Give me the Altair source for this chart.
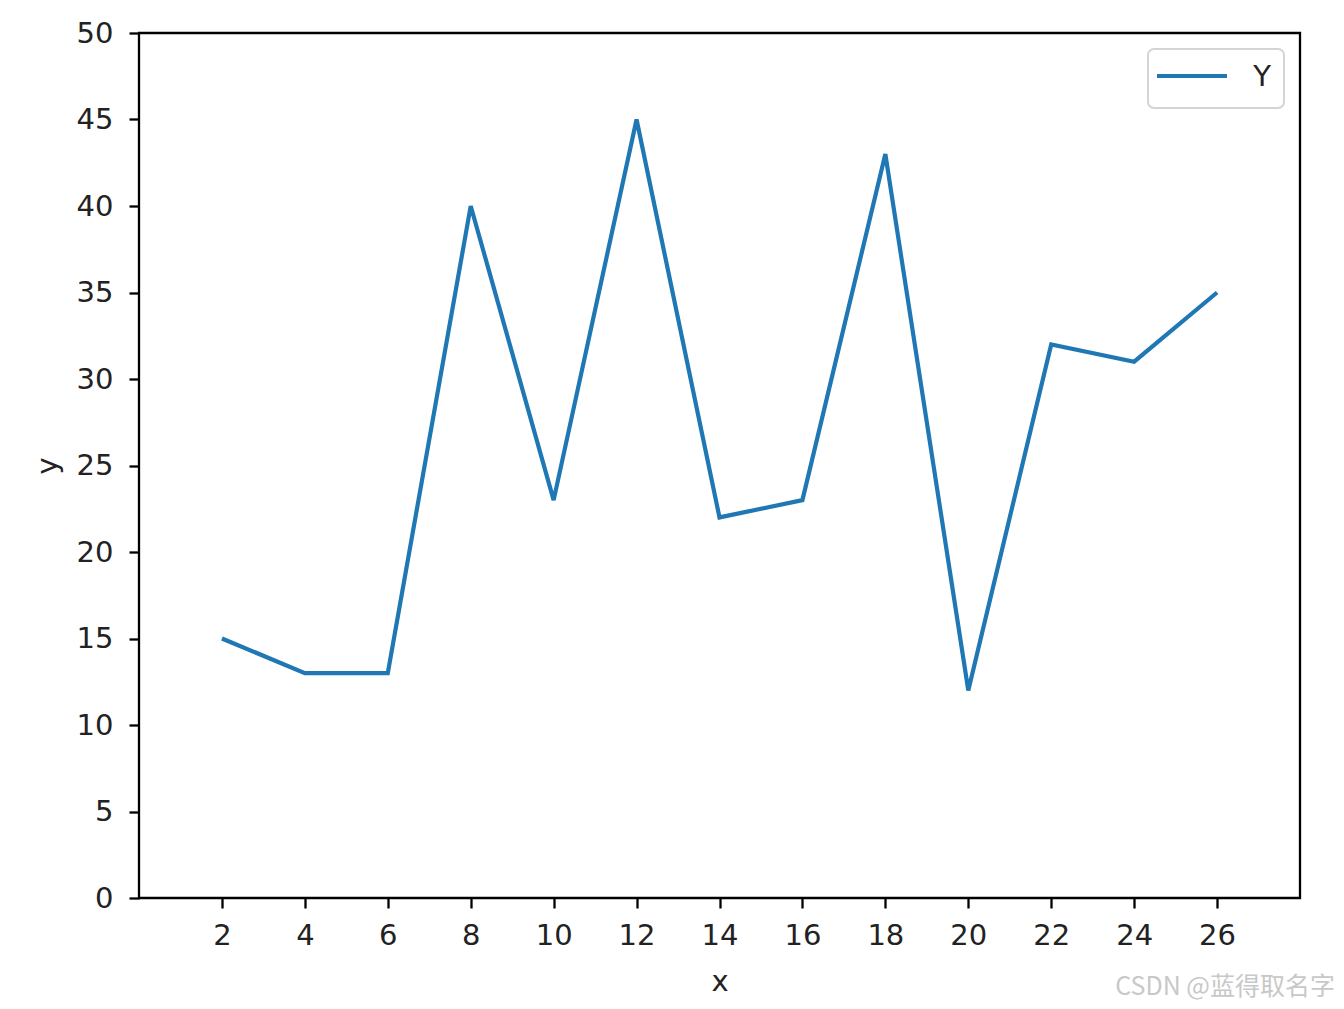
import altair as alt
import pandas as pd

x_vals = [2, 4, 6, 8, 10, 12, 14, 16, 18, 20, 22, 24, 26]
y_vals = [15, 13, 13, 40, 23, 45, 22, 23, 43, 12, 32, 31, 35]
legend_label = "Y"
watermark = "CSDN @蓝得取名字"

df = pd.DataFrame({"x": x_vals, "y": y_vals})

FONT = "DejaVu Sans"
FS = 29
BLUE = "#1f77b4"

line = alt.Chart(df).mark_line(strokeWidth=4.2, color=BLUE, clip=False).encode(
    x=alt.X("x:Q", scale=alt.Scale(domain=[0, 28], nice=False, zero=False),
            axis=alt.Axis(values=x_vals, title="x", grid=False)),
    y=alt.Y("y:Q", scale=alt.Scale(domain=[0, 50], nice=False),
            axis=alt.Axis(values=list(range(0, 51, 5)), title="y", grid=False)),
)

one = pd.DataFrame({"t": [legend_label]})

leg_box = alt.Chart(one).mark_rect(
    fill="white", stroke="#d0d0d0", strokeWidth=2, cornerRadius=6, opacity=0.9
).encode(x=alt.value(1009), x2=alt.value(1145), y=alt.value(16), y2=alt.value(75))

leg_line = alt.Chart(one).mark_rule(color=BLUE, strokeWidth=4.2).encode(
    x=alt.value(1018), x2=alt.value(1088), y=alt.value(43))

leg_text = alt.Chart(one).mark_text(
    align="center", baseline="middle", fontSize=FS, font=FONT, color="#222"
).encode(x=alt.value(1123), y=alt.value(44), text="t:N")

wm = alt.Chart(pd.DataFrame({"t": [watermark]})).mark_text(
    align="right", baseline="middle", fontSize=25, font="Noto Sans CJK SC",
    color="#c8c8c8", clip=False
).encode(x=alt.value(1196), y=alt.value(954), text="t:N")

chart = alt.layer(line, leg_box, leg_line, leg_text, wm).properties(
    width=1161, height=865,
    autosize=alt.AutoSizeParams(type="none"),
    padding={"left": 131, "top": 25, "right": 36, "bottom": 104},
).configure_view(stroke="black", strokeWidth=2.3).configure_axis(
    labelFont=FONT, labelFontSize=FS, labelColor="#222",
    titleFont=FONT, titleFontSize=FS, titleColor="#222", titleFontWeight="normal",
    domain=False, tickColor="black", tickWidth=2.3, tickSize=10,
).configure_axisX(labelPadding=13, titlePadding=17).configure_axisY(labelPadding=16, titlePadding=14)

chart.save("out.html", embed_options={"renderer": "svg", "actions": False})
